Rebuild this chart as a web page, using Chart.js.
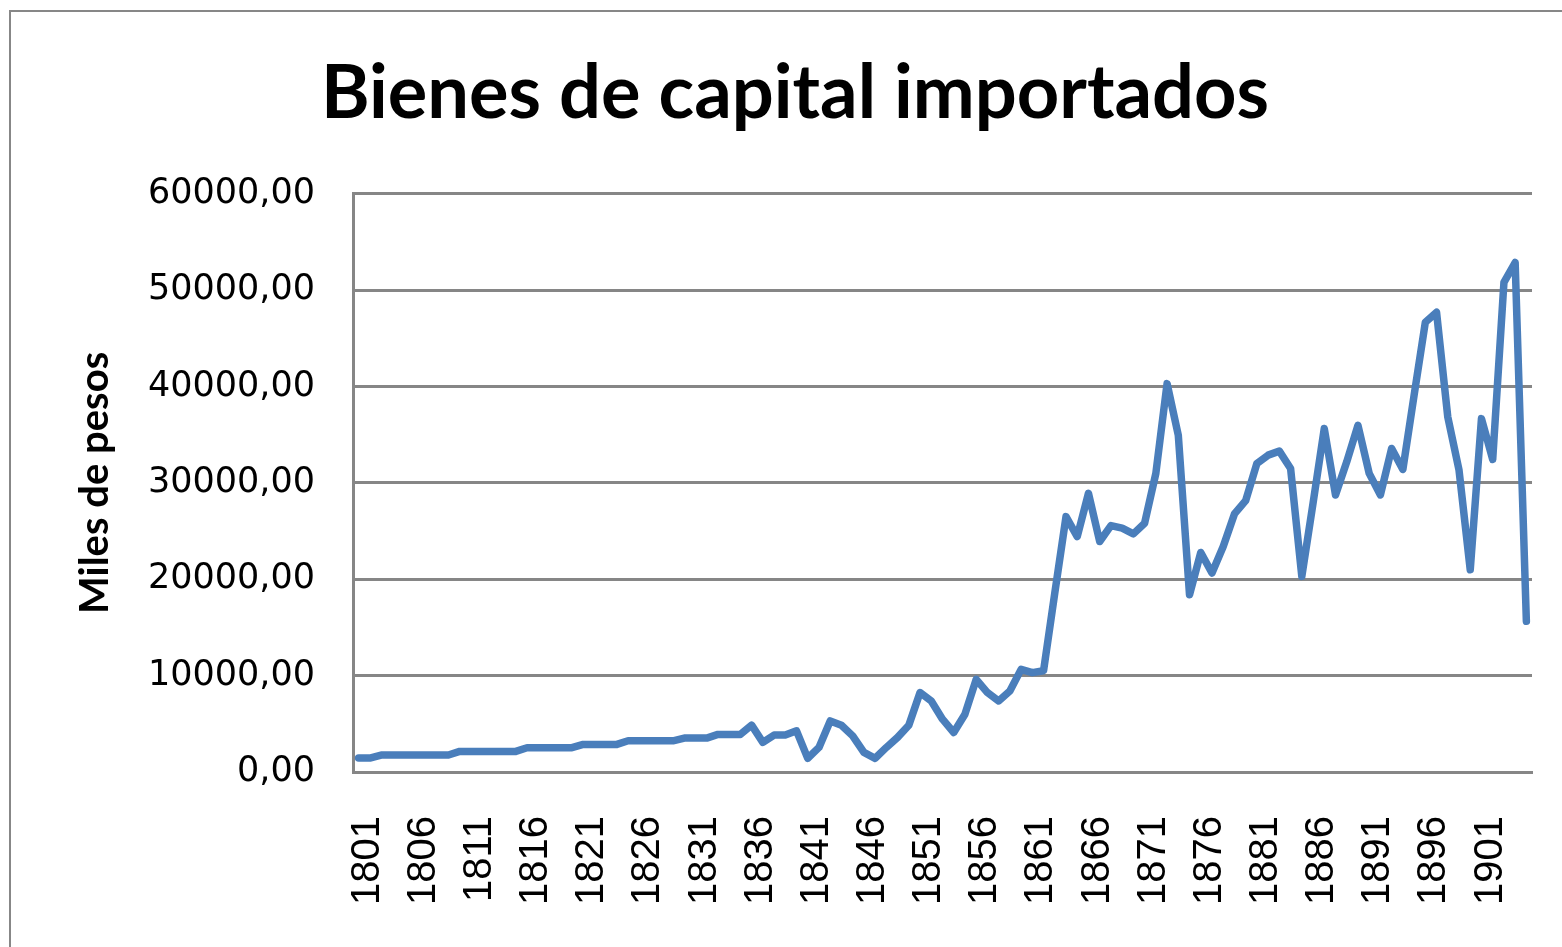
<!DOCTYPE html>
<html>
<head>
    <title>Bienes de capital importados</title>
    <script src="https://cdn.jsdelivr.net/npm/chart.js"></script>
    <style>
        html, body {
            margin: 0;
            padding: 0;
            background: white;
            overflow: hidden;
        }
        canvas {
            display: block;
        }
    </style>
</head>
<body>
    <canvas id="capitalChart" width="1562" height="947"></canvas>

    <script>
        // years on the category axis, 1801 - 1905
        const years = Array.from({ length: 105 }, (_, i) => String(1801 + i));

        // miles de pesos
        const importedCapital = [
            1450, 1450, 1760, 1760, 1760, 1760, 1760, 1760, 1760, 2140,
            2140, 2140, 2140, 2140, 2140, 2520, 2520, 2520, 2520, 2520,
            2860, 2860, 2860, 2860, 3240, 3240, 3240, 3240, 3240, 3520,
            3520, 3520, 3900, 3900, 3900, 4860, 3070, 3830, 3830, 4270,
            1420, 2550, 5300, 4860, 3750, 2030, 1420, 2550, 3590, 4860,
            8240, 7370, 5480, 4100, 6000, 9620, 8240, 7370, 8410, 10650,
            10310, 10500, 18580, 26500, 24430, 28920, 23920, 25570, 25300, 24710,
            25820, 30990, 40300, 34950, 18400, 22780, 20650, 23400, 26780, 28160,
            32020, 32880, 33300, 31500, 20300, 27890, 35640, 28750, 32190, 35980,
            30990, 28750, 33570, 31400, 39090, 46670, 47700, 36840, 31330, 20990,
            36670, 32430, 50800, 52870, 15640
        ];

        const yTicks = [0, 10000, 20000, 30000, 40000, 50000, 60000];

        // grey frame of the chart object, runs off the right and bottom edges
        const outerFrame = {
            id: 'outerFrame',
            beforeDraw(chart) {
                const ctx = chart.ctx;
                ctx.save();
                ctx.fillStyle = 'white';
                ctx.fillRect(0, 0, chart.width, chart.height);
                ctx.strokeStyle = '#878787';
                ctx.lineWidth = 2;
                ctx.strokeRect(10, 11, 2000, 2000);
                ctx.restore();
            }
        };

        const ctx = document.getElementById('capitalChart').getContext('2d');

        new Chart(ctx, {
            type: 'line',
            data: {
                labels: years,
                datasets: [{
                    label: 'Bienes de capital importados',
                    data: importedCapital,
                    borderColor: '#4a7ebb',
                    borderWidth: 7.5,
                    borderJoinStyle: 'round',
                    borderCapStyle: 'round',
                    pointRadius: 0,
                    tension: 0,
                    fill: false
                }]
            },
            options: {
                responsive: false,
                animation: false,
                layout: { padding: { left: 58, top: 0, right: 30, bottom: 0 } },
                plugins: {
                    legend: { display: false },
                    tooltip: { enabled: false },
                    title: {
                        display: true,
                        text: 'Bienes de capital importados',
                        color: '#000',
                        font: { family: 'Lato', size: 74, weight: 'bold' },
                        padding: { top: 50, bottom: 55 }
                    }
                },
                scales: {
                    x: {
                        type: 'category',
                        offset: true,
                        grid: { display: false, drawTicks: false },
                        border: { display: true, color: '#868686', width: 3 },
                        ticks: {
                            autoSkip: false,
                            maxRotation: 90,
                            minRotation: 90,
                            padding: 44,
                            labelOffset: 9,
                            color: '#000',
                            font: { family: 'Liberation Sans', size: 40 },
                            callback: function(value, index) {
                                return index % 5 === 0 ? this.getLabelForValue(value) : null;
                            }
                        },
                        afterFit(scale) {
                            scale.height = 175;
                            // rotated labels would otherwise push the plot in from the right
                            scale.paddingLeft = 0;
                            scale.paddingRight = 0;
                        }
                    },
                    y: {
                        min: 0,
                        max: 60000,
                        afterBuildTicks(scale) {
                            scale.ticks = yTicks.map(v => ({ value: v }));
                        },
                        grid: { color: '#868686', lineWidth: 3, drawTicks: false },
                        border: { display: true, color: '#868686', width: 3 },
                        ticks: {
                            padding: 38,
                            color: '#000',
                            font: { family: 'DejaVu Sans', size: 35 },
                            callback: value => `${value},00`
                        },
                        title: {
                            display: true,
                            text: 'Miles de pesos',
                            color: '#000',
                            font: { family: 'Lato', size: 40, weight: 'bold' },
                            padding: { top: 13, bottom: 0 }
                        },
                        afterFit(scale) { scale.width = 295; }
                    }
                }
            },
            plugins: [outerFrame]
        });
    </script>
</body>
</html>
